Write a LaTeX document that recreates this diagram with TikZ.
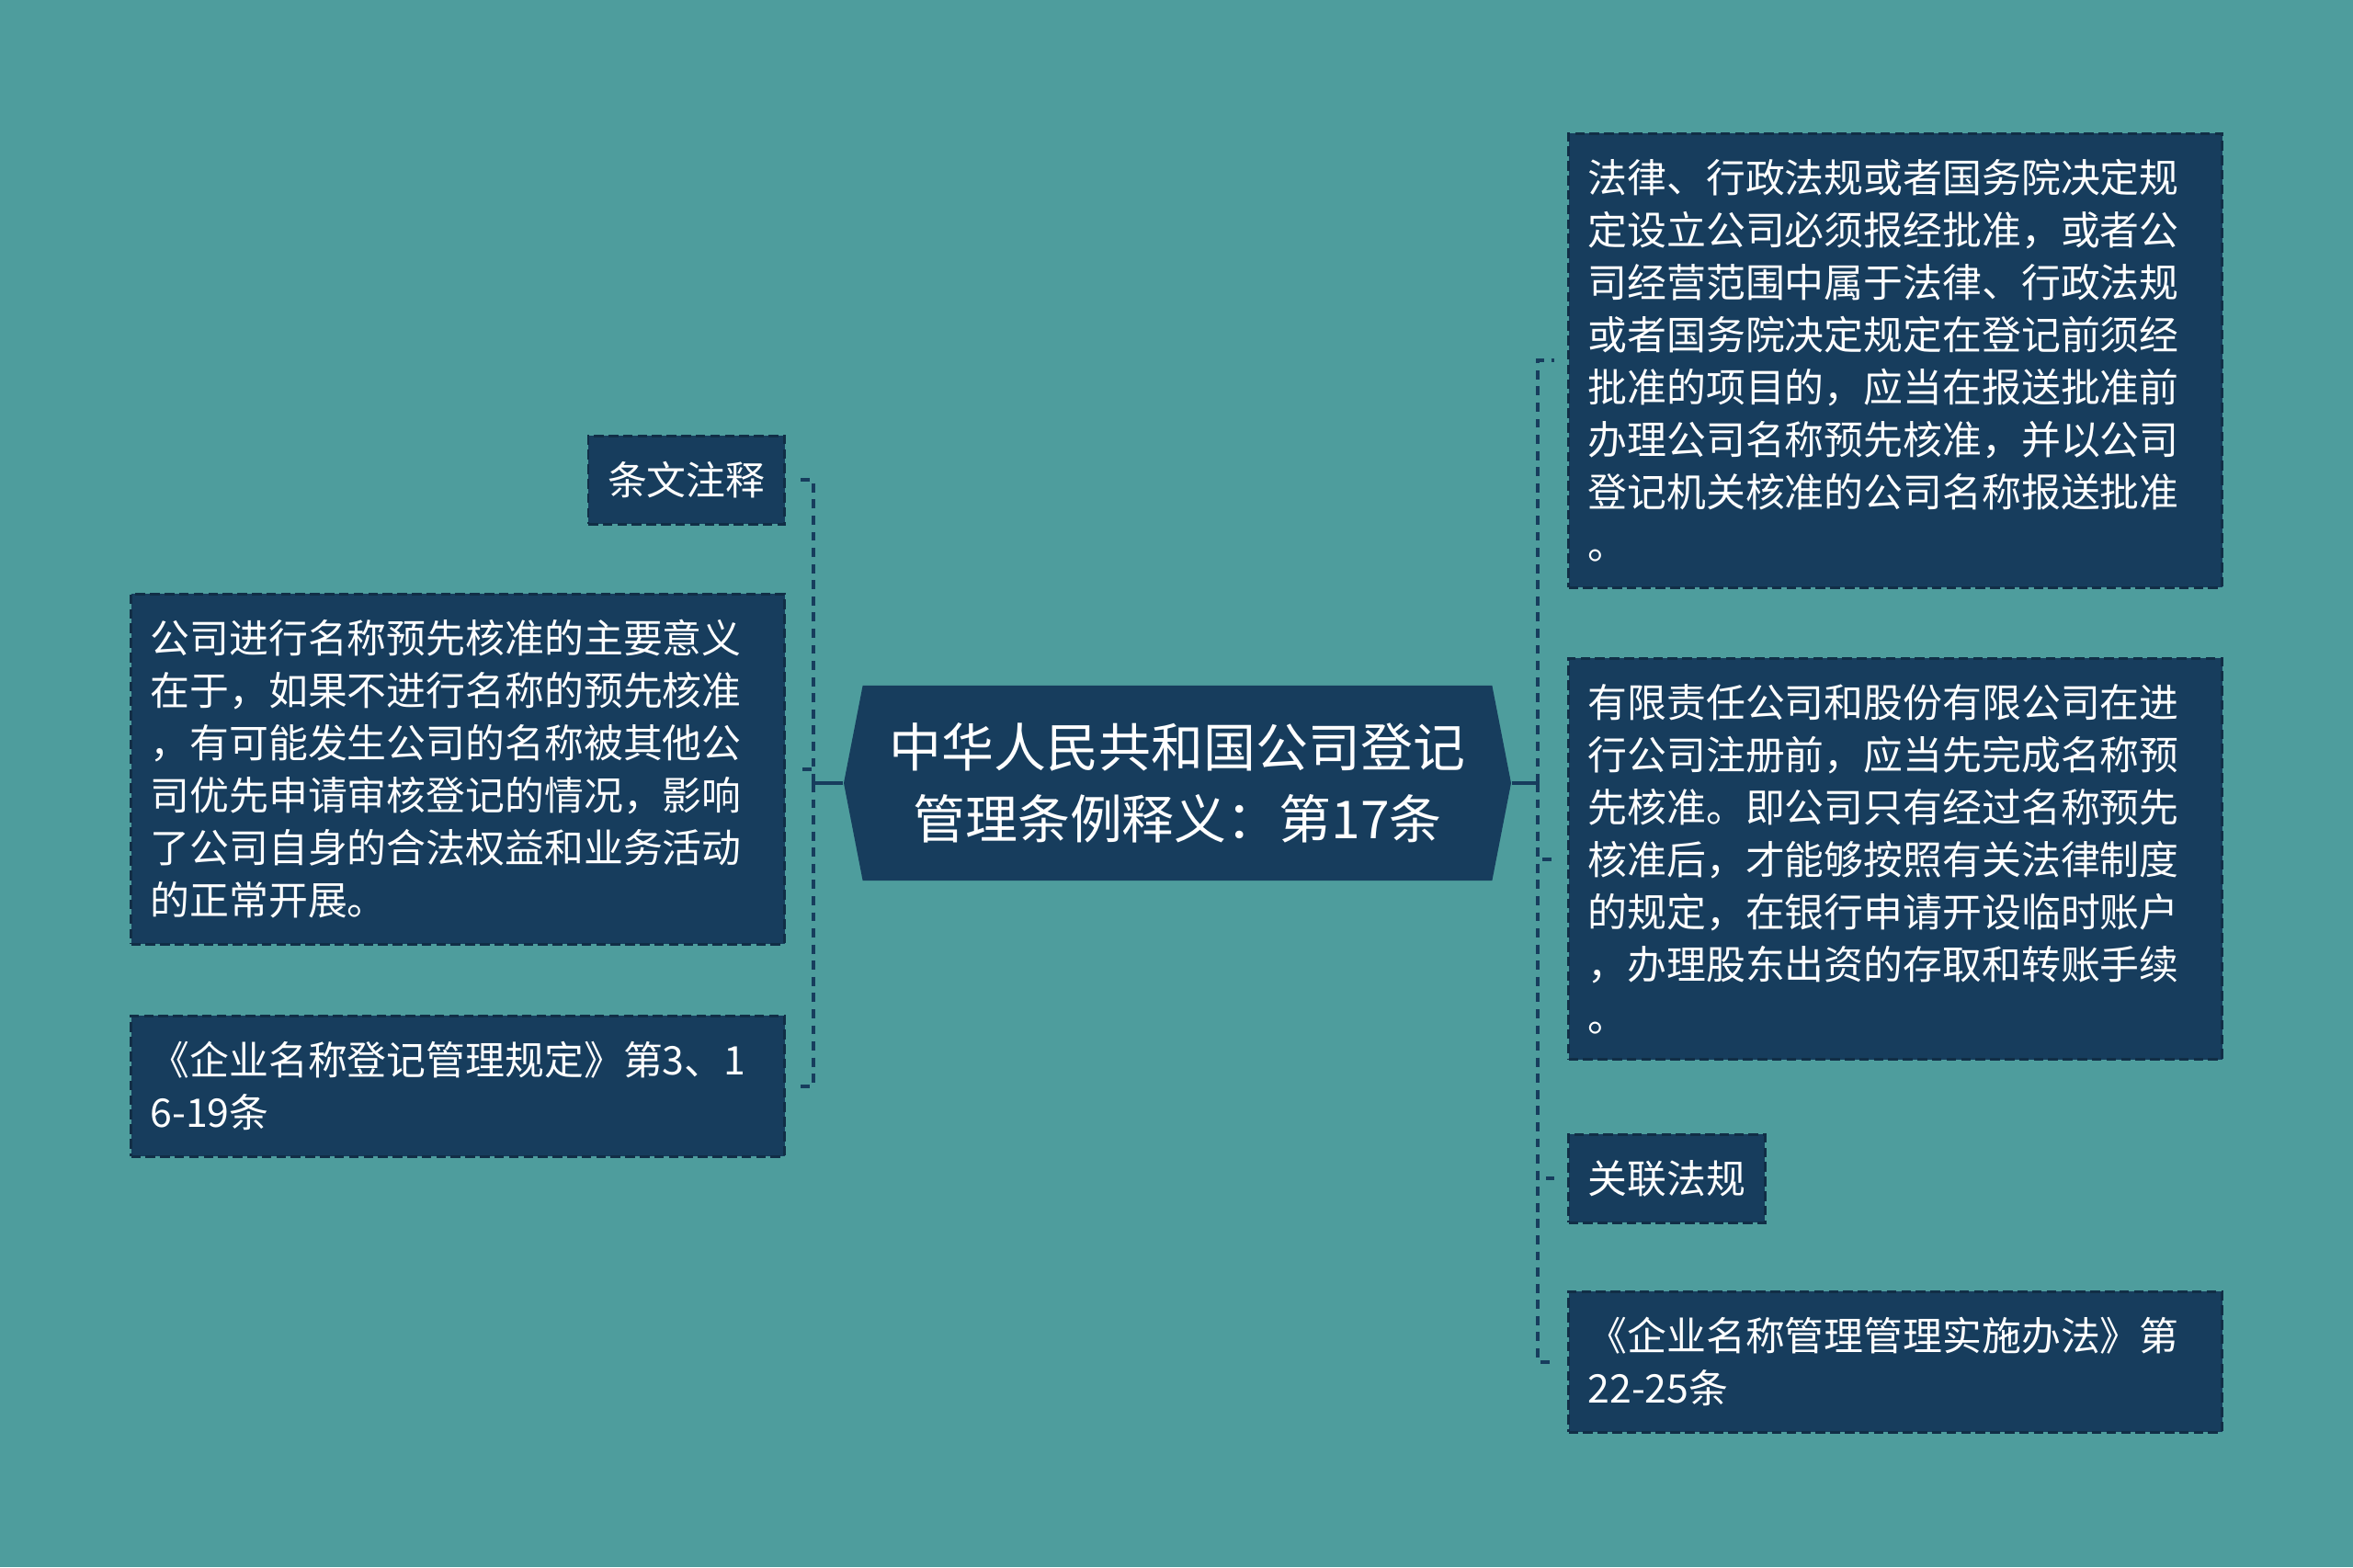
\documentclass[tikz,border=0pt]{standalone}
\usepackage{fontspec}
\newfontfamily\cjk{Noto Sans CJK SC}
\usetikzlibrary{shapes.symbols}
\definecolor{bgteal}{HTML}{4E9D9D}
\definecolor{boxnavy}{HTML}{173D5D}

\begin{document}
\begin{tikzpicture}[
        link/.style={draw=boxnavy, line width=1.1pt},
        dash link/.style={link, dash pattern=on 2.8pt off 2.2pt},
        title node/.style={signal, signal to=east and west, signal pointer angle=158,
            fill=boxnavy, text=white, minimum width=7.26cm, minimum height=2.12cm,
            inner sep=0pt, align=center, font={\cjk\fontsize{16.2}{22.3}\selectfont}},
        leaf/.style={fill=boxnavy, draw=boxnavy!75!black, dash pattern=on 3pt off 1.5pt,
            line width=0.85pt, text=white, inner xsep=0.21cm, inner ysep=0.28cm,
            align=left, font={\cjk\fontsize{12.2}{16.2}\selectfont}},
        wide leaf/.style={leaf, text width=6.69cm}]

    % Tlo
    \fill[bgteal] (0,0) rectangle (25.6,17.05);
    \useasboundingbox (0,0) rectangle (25.6,17.05);

    % Wezly
    \node[title node] (title) at (12.81,8.53) {中华人民共和国公司登记\\管理条例释义：第17条};

    \node[leaf, anchor=north east] (note) at (8.55,12.32) {条文注释};
    \node[wide leaf, anchor=north east] (meaning) at (8.55,10.60) {公司进行名称预先核准的主要意义\\在于，如果不进行名称的预先核准\\，有可能发生公司的名称被其他公\\司优先申请审核登记的情况，影响\\了公司自身的合法权益和业务活动\\的正常开展。};
    \node[wide leaf, anchor=north east] (rule) at (8.55,6.01) {《企业名称登记管理规定》第3、1\\6-19条};

    \node[wide leaf, anchor=north west] (approval) at (17.05,15.61) {法律、行政法规或者国务院决定规\\定设立公司必须报经批准，或者公\\司经营范围中属于法律、行政法规\\或者国务院决定规定在登记前须经\\批准的项目的，应当在报送批准前\\办理公司名称预先核准，并以公司\\登记机关核准的公司名称报送批准\\。};
    \node[wide leaf, anchor=north west] (register) at (17.05,9.90) {有限责任公司和股份有限公司在进\\行公司注册前，应当先完成名称预\\先核准。即公司只有经过名称预先\\核准后，才能够按照有关法律制度\\的规定，在银行申请开设临时账户\\，办理股东出资的存取和转账手续\\。};
    \node[leaf, anchor=north west] (related) at (17.05,4.72) {关联法规};
    \node[wide leaf, anchor=north west] (measure) at (17.05,3.01) {《企业名称管理管理实施办法》第\\22-25条};

    \coordinate (lj) at (8.85,8.53);
    \coordinate (rj) at (16.73,8.53);

    % Krawedzie
    \draw[link] (title.west) -- (lj);
    \draw[link] (title.east) -- (rj);
    \foreach \n in {note, meaning, rule}
        \draw[dash link] (lj) |- ([xshift=0.16cm]\n.east);
    \foreach \n in {approval, register, related, measure}
        \draw[dash link] (rj) |- ([xshift=-0.14cm]\n.west);
\end{tikzpicture}
\end{document}
